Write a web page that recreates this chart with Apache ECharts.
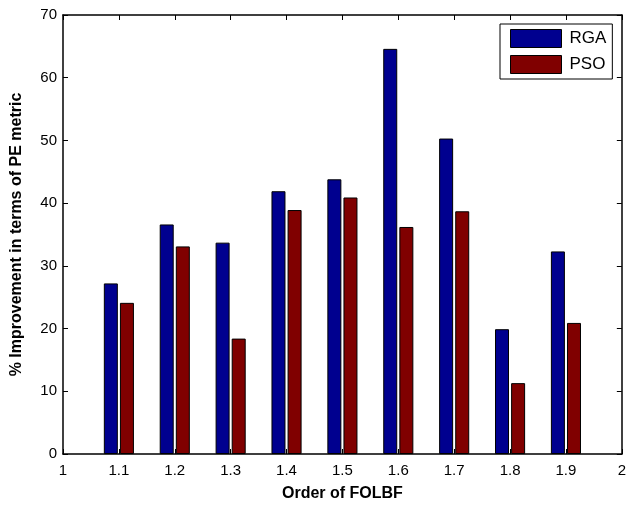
<!DOCTYPE html>
<html>
<head>
<meta charset="utf-8">
<script src="https://cdn.jsdelivr.net/npm/echarts@6/dist/echarts.min.js"></script>
<style>html,body{margin:0;padding:0;background:#fff;}#c{width:629px;height:507px;}</style>
</head>
<body>
<div id="c"></div>
<script>
const orders = [1.1, 1.2, 1.3, 1.4, 1.5, 1.6, 1.7, 1.8, 1.9];
const rga = [27.2, 36.6, 33.7, 41.9, 43.8, 64.6, 50.3, 19.9, 32.3];
const pso = [24.1, 33.1, 18.4, 38.9, 40.9, 36.2, 38.7, 11.3, 20.9];
const seriesNames = ['RGA', 'PSO'];
const xTitle = 'Order of FOLBF';
const yTitle = '% Improvement in terms of PE metric';

const font = 'Liberation Sans, Arial, Helvetica, sans-serif';
const chart = echarts.init(document.getElementById('c'));
const tickStyle = {show: true, inside: true, length: 5, lineStyle: {color: '#000', width: 1}};
const lineStyle = {show: true, onZero: false, lineStyle: {color: '#000', width: 1.5}};
chart.setOption({
  animation: false,
  backgroundColor: '#fff',
  grid: {left: 63, right: 4, top: 15, bottom: 49},
  legend: {
    data: seriesNames,
    orient: 'vertical',
    left: 500, top: 24,
    width: 112,
    icon: 'rect',
    itemWidth: 51, itemHeight: 18, itemGap: 7,
    padding: [5, 6, 5, 10],
    borderColor: '#000', borderWidth: 1, backgroundColor: '#fff',
    textStyle: {fontFamily: font, fontSize: 17, color: '#000', padding: [0, 0, 0, 3]},
    itemStyle: {borderColor: '#000', borderWidth: 1}
  },
  xAxis: [{
    type: 'value', min: 1, max: 2, interval: 0.1,
    name: xTitle, nameLocation: 'middle', nameGap: 32,
    nameTextStyle: {fontFamily: font, fontSize: 16, fontWeight: 'bold', color: '#000'},
    axisLine: lineStyle, axisTick: tickStyle, splitLine: {show: false},
    axisLabel: {fontFamily: font, fontSize: 15, color: '#000', margin: 9,
      formatter: v => (Math.abs(v - Math.round(v)) < 1e-9 ? String(Math.round(v)) : v.toFixed(1))}
  }, {
    type: 'value', min: 1, max: 2, interval: 0.1, position: 'top',
    axisLine: lineStyle, axisTick: tickStyle, axisLabel: {show: false}, splitLine: {show: false}
  }],
  yAxis: [{
    type: 'value', min: 0, max: 70, interval: 10,
    name: yTitle, nameLocation: 'middle', nameGap: 38, nameRotate: 90,
    nameTextStyle: {fontFamily: font, fontSize: 16, fontWeight: 'bold', color: '#000'},
    axisLine: lineStyle, axisTick: tickStyle, splitLine: {show: false},
    axisLabel: {fontFamily: font, fontSize: 15, color: '#000', margin: 6}
  }, {
    type: 'value', min: 0, max: 70, interval: 10, position: 'right',
    axisLine: lineStyle, axisTick: tickStyle, axisLabel: {show: false}, splitLine: {show: false}
  }],
  series: [{
    name: seriesNames[0], type: 'bar', barWidth: 14, barGap: '15%',
    data: orders.map((x, i) => [x, rga[i]]),
    itemStyle: {color: '#00008F', borderColor: '#000', borderWidth: 1}
  }, {
    name: seriesNames[1], type: 'bar', barWidth: 14, barGap: '15%',
    data: orders.map((x, i) => [x, pso[i]]),
    itemStyle: {color: '#800000', borderColor: '#000', borderWidth: 1}
  }]
});
</script>
</body>
</html>
